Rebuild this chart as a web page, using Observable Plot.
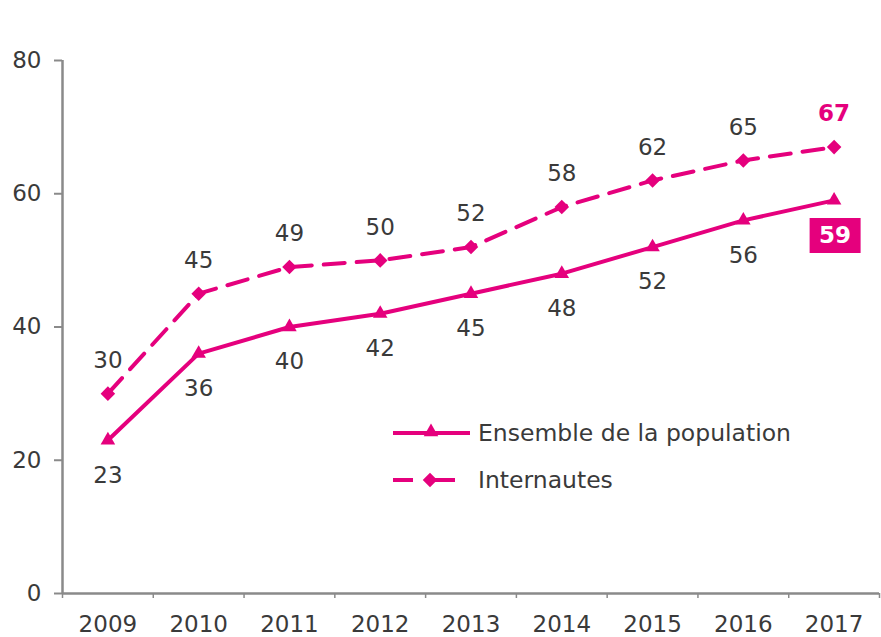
<!DOCTYPE html>
<html>
<head>
<meta charset="utf-8">
<script src="https://cdn.jsdelivr.net/npm/d3@7"></script>
<script src="https://cdn.jsdelivr.net/npm/@observablehq/plot@0.6"></script>
<style>
  html, body { margin: 0; padding: 0; background: #fff; }
  #chart svg { display: block; }
</style>
</head>
<body>
<div id="chart"></div>
<script>
const years = [2009, 2010, 2011, 2012, 2013, 2014, 2015, 2016, 2017];
const ensemble = [23, 36, 40, 42, 45, 48, 52, 56, 59];
const internautes = [30, 45, 49, 50, 52, 58, 62, 65, 67];
const yTicks = [0, 20, 40, 60, 80];
const seriesNames = ["Ensemble de la population", "Internautes"];

const MAGENTA = "#e5007d";
const AXIS = "#8a8a8a";
const TEXT = "#3a3a3a";
const FONT = "DejaVu Sans, Verdana, sans-serif";

const rows = years.map((year, i) => ({year, ensemble: ensemble[i], internautes: internautes[i]}));
const last = rows.slice(-1);
const rest = rows.slice(0, -1);
const edges = years.map(y => y - 0.5).concat([years[years.length - 1] + 0.5]);

const boxSymbol = {draw(ctx) { ctx.rect(-25.5, -17.5, 51, 35); }};

const chart = Plot.plot({
  width: 881,
  height: 637,
  marginLeft: 62,
  marginRight: 2,
  marginTop: 60,
  marginBottom: 44,
  style: {fontFamily: FONT, fontSize: "23px", color: TEXT, background: "#fff"},
  x: {domain: [edges[0], edges[edges.length - 1]]},
  y: {domain: [0, 80]},
  marks: [
    Plot.axisY({ticks: yTicks, tickSize: 8, tickPadding: 13, label: null, stroke: AXIS, strokeWidth: 2, fill: TEXT}),
    Plot.axisX({ticks: edges, tickSize: 5, tickFormat: () => "", label: null, stroke: AXIS, strokeWidth: 1.5}),
    Plot.axisX({ticks: years, tickSize: 0, tickPadding: 22, tickFormat: d => String(d), label: null, fill: TEXT}),
    Plot.ruleX([edges[0]], {stroke: AXIS, strokeWidth: 2.5}),
    Plot.ruleY([0], {stroke: AXIS, strokeWidth: 2.5}),
    Plot.line(rows, {x: "year", y: "internautes", stroke: MAGENTA, strokeWidth: 4, strokeDasharray: "21,12"}),
    Plot.line(rows, {x: "year", y: "ensemble", stroke: MAGENTA, strokeWidth: 4}),
    Plot.dot(rows, {x: "year", y: "internautes", symbol: "square", r: 5.8, rotate: 45, fill: MAGENTA}),
    Plot.dot(rows, {x: "year", y: "ensemble", symbol: "triangle", r: 5.4, fill: MAGENTA}),
    Plot.text(rest, {x: "year", y: "internautes", text: d => String(d.internautes), dy: -33, fill: TEXT}),
    Plot.text(rest, {x: "year", y: "ensemble", text: d => String(d.ensemble), dy: 35, fill: TEXT}),
    Plot.text(last, {x: "year", y: "internautes", text: d => String(d.internautes), dy: -33, fill: MAGENTA, fontWeight: "bold"}),
    Plot.dot(last, {x: "year", y: "ensemble", symbol: boxSymbol, fill: MAGENTA, dy: 35, dx: 1}),
    Plot.text(last, {x: "year", y: "ensemble", text: d => String(d.ensemble), dy: 35, dx: 1, fill: "#fff", fontWeight: "bold"})
  ]
});

// Legend inside the plot area
const svg = d3.select(chart);
const lg = svg.append("g").attr("font-family", FONT).attr("font-size", 23.5)
  .attr("fill", TEXT).attr("text-anchor", "start");
// solid line entry
lg.append("line").attr("x1", 393).attr("x2", 470).attr("y1", 433).attr("y2", 433)
  .attr("stroke", MAGENTA).attr("stroke-width", 4);
lg.append("path").attr("d", d3.symbol(d3.symbolTriangle, Math.PI * 5.4 * 5.4)())
  .attr("transform", "translate(431,432)").attr("fill", MAGENTA);
lg.append("text").attr("x", 478).attr("y", 433).attr("dy", "0.35em").text(seriesNames[0]);
// dashed line entry
lg.append("line").attr("x1", 393).attr("x2", 413).attr("y1", 480).attr("y2", 480)
  .attr("stroke", MAGENTA).attr("stroke-width", 4);
lg.append("line").attr("x1", 433).attr("x2", 455).attr("y1", 480).attr("y2", 480)
  .attr("stroke", MAGENTA).attr("stroke-width", 4);
lg.append("path").attr("d", d3.symbol(d3.symbolSquare, Math.PI * 5.8 * 5.8)())
  .attr("transform", "translate(430,480) rotate(45)").attr("fill", MAGENTA);
lg.append("text").attr("x", 478).attr("y", 480).attr("dy", "0.35em").text(seriesNames[1]);

document.getElementById("chart").appendChild(chart);
</script>
</body>
</html>
